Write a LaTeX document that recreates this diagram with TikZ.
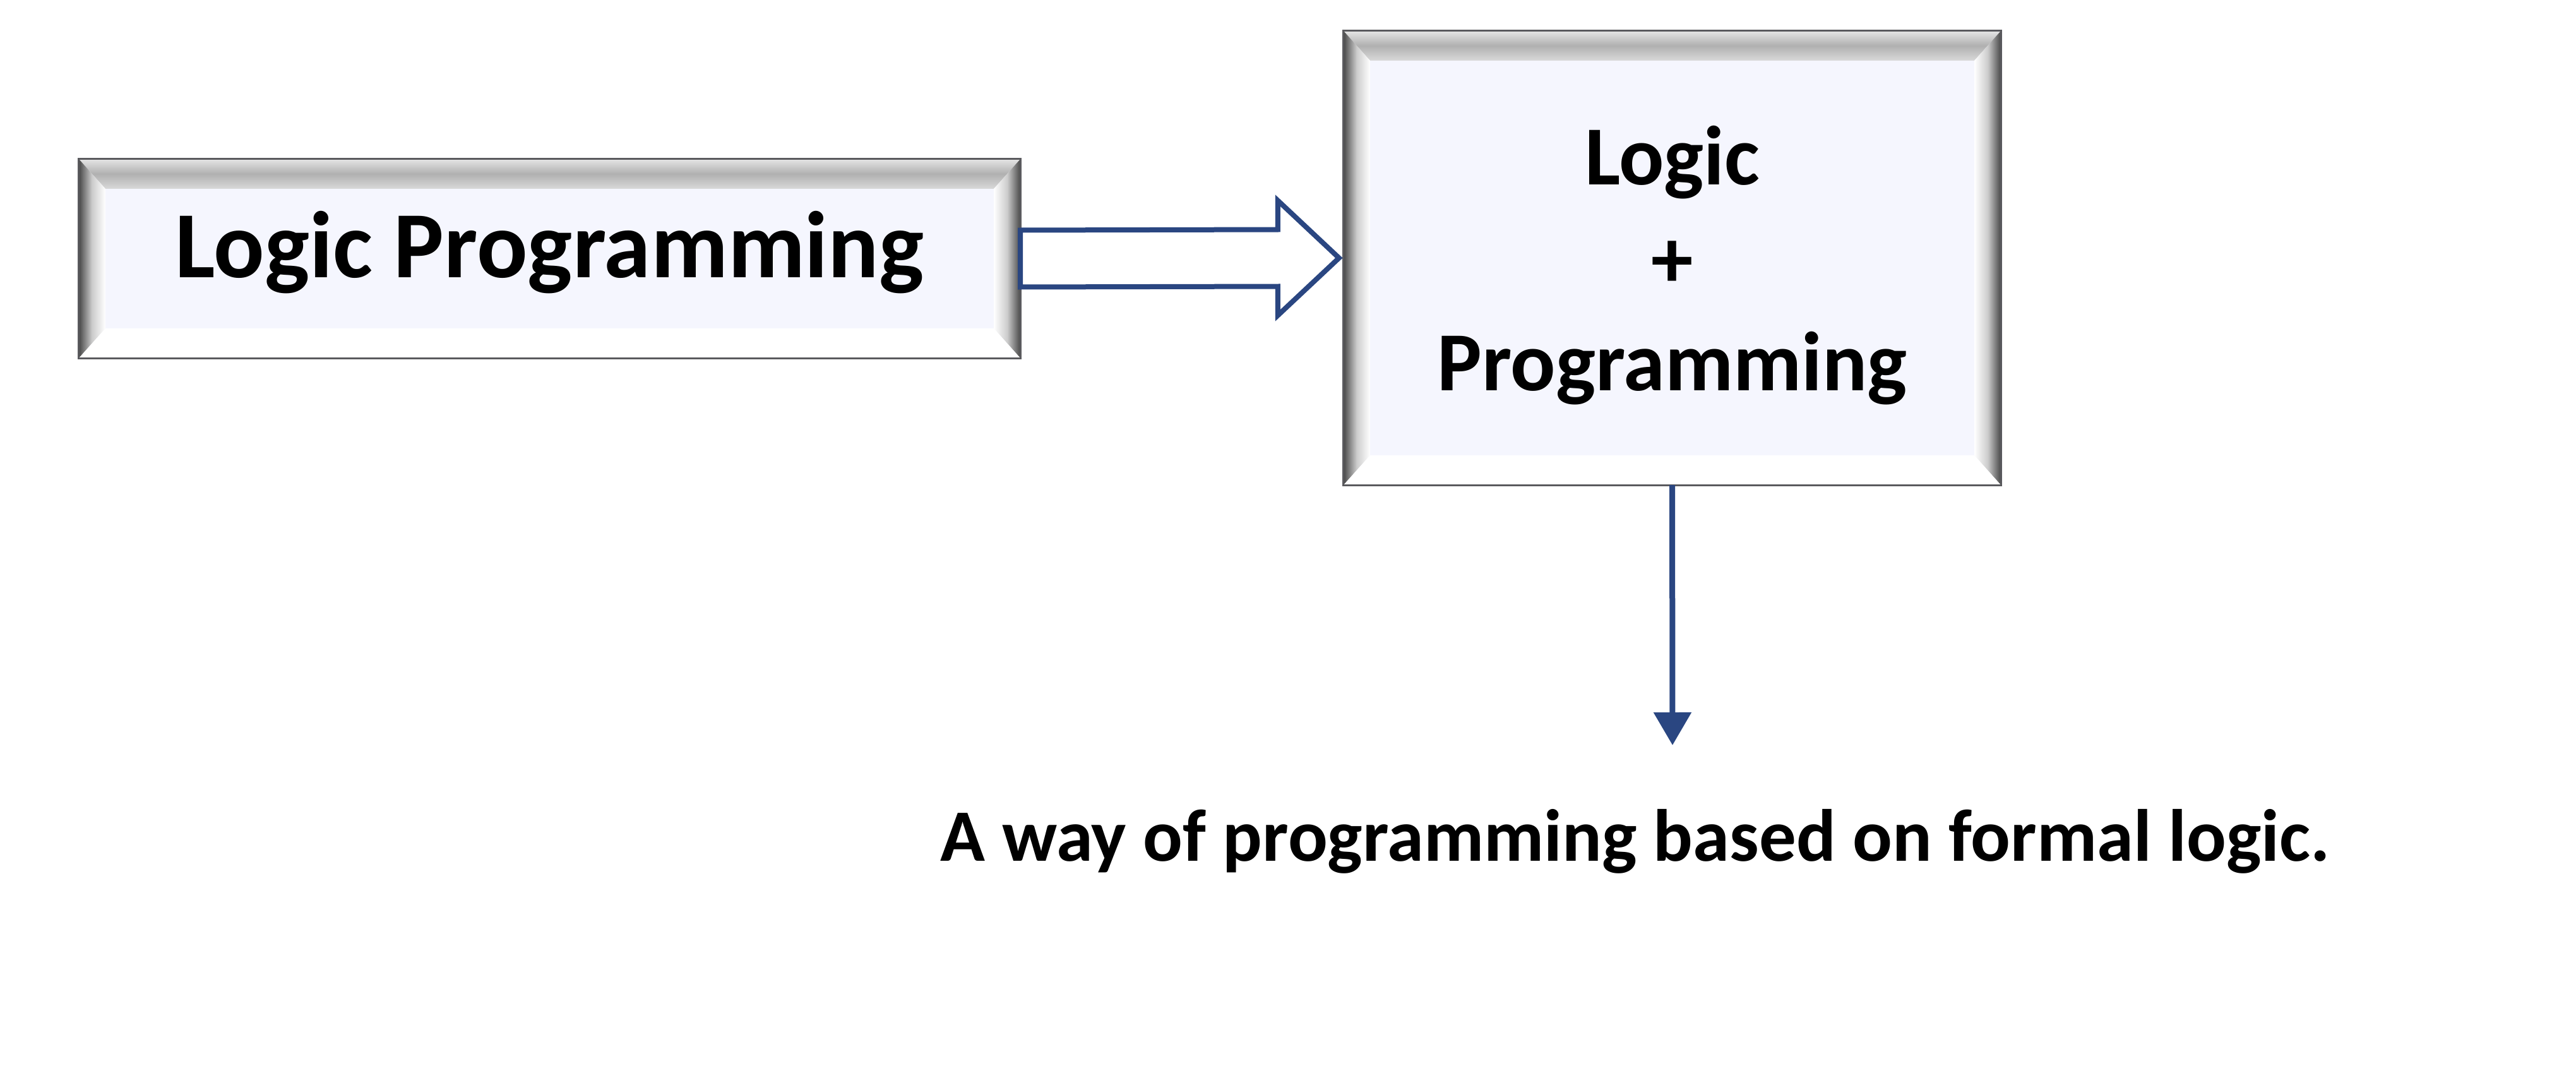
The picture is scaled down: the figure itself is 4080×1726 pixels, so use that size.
\documentclass[tikz,border=0pt]{standalone}
\usepackage{fontspec}
\setmainfont{Carlito}
\usetikzlibrary{calc,arrows.meta}
\definecolor{boxfill}{HTML}{F5F6FE}
\definecolor{arrowblue}{HTML}{2A4681}
\definecolor{edgegray}{HTML}{5A5A5E}
\tikzset{
  bevelbox/.style={rectangle, fill=boxfill, inner sep=0pt},
  boxtext/.style={inner sep=0pt, align=center, font=\bfseries},
  boxedge/.style={draw=edgegray, line width=3pt},
  blockarrow/.style={draw=arrowblue, line width=8pt, fill=white, line join=miter},
  downarrow/.style={draw=arrowblue, line width=9pt, -{Triangle[width=58pt 0 0,length=52pt 0 0]}},
  note/.style={font=\fontsize{117}{135}\selectfont\bfseries, inner sep=0pt},
}
\newcommand\bevelit[1]{%
  \shade[top color=gray!20, bottom color=gray!30, middle color=gray!62]
    (#1.north west) -- (#1.north east) -- ($(#1.north east)+(-42,47)$) -- ($(#1.north west)+(42,47)$) -- cycle;
  \shade[left color=black!72, right color=white, middle color=gray!40]
    (#1.north west) -- ($(#1.north west)+(42,47)$) -- ($(#1.south west)+(42,-47)$) -- (#1.south west) -- cycle;
  \shade[left color=white, right color=black!72, middle color=gray!40]
    (#1.north east) -- ($(#1.north east)+(-42,47)$) -- ($(#1.south east)+(-42,-47)$) -- (#1.south east) -- cycle;
  \fill[white]
    (#1.south west) -- ($(#1.south west)+(42,-47)$) -- ($(#1.south east)+(-42,-47)$) -- (#1.south east) -- cycle;
  \draw[boxedge] (#1.north west) rectangle (#1.south east);
}
\begin{document}
\begin{tikzpicture}[x=1pt,y=-1pt]
  \useasboundingbox (0,0) rectangle (4080,1726);
  \fill[white] (0,0) rectangle (4080,1726);

  \node[bevelbox, minimum width=1491pt, minimum height=315pt] (lp) at (870.5,409.5) {};
  \bevelit{lp}
  \node[boxtext, font=\fontsize{150}{170}\selectfont\bfseries] (lpt) at ($(lp.center)+(0,-10)$) {Logic Programming};

  \node[bevelbox, minimum width=1041pt, minimum height=719pt] (rb) at (2648.5,408.5) {};
  \bevelit{rb}
  \node[boxtext, font=\fontsize{133}{163}\selectfont\bfseries] (rbt) at ($(rb.center)+(0,12)$) {Logic\\+\\Programming};

  \draw[blockarrow]
    ($(lp.east)+(0,-45)$) -- ($(rb.west)+(-104,-45)$) -- ($(rb.west)+(-104,-91)$)
    -- ($(rb.west)+(-7,0)$) -- ($(rb.west)+(-104,91)$) -- ($(rb.west)+(-104,45)$)
    -- ($(lp.east)+(0,45)$) -- cycle;

  \node[note] (def) at (2590,1332) {A way of programming based on formal logic.};
  \coordinate (tip) at (2649,1180);
  \draw[downarrow] (rb.south) -- (tip);
\end{tikzpicture}
\end{document}
